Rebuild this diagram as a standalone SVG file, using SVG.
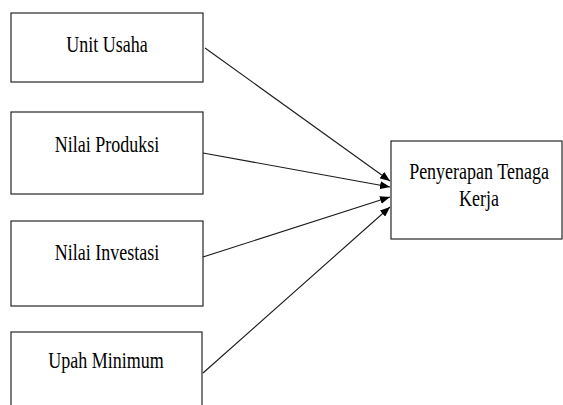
<svg xmlns="http://www.w3.org/2000/svg" width="563" height="405" viewBox="0 0 563 405">
  <style>
    .box { fill: #ffffff; stroke: #262626; stroke-width: 1.2; }
    .lbl { font-size: 18px; fill: #000000; text-anchor: middle; }
    .conn { stroke: #1a1a1a; stroke-width: 1.1; fill: none; marker-end: url(#arrow); }
  </style>
  <defs>
    <marker id="arrow" markerWidth="10" markerHeight="8" refX="10" refY="4" orient="auto" markerUnits="userSpaceOnUse">
      <path d="M0,0 L10,4 L0,8 z" fill="#000000"/>
    </marker>
  </defs>
  <rect width="563" height="405" fill="#ffffff"/>
  <g font-family="'Liberation Serif', 'Times New Roman', serif">
  <g id="node-unit-usaha">
    <rect class="box" x="11" y="13" width="192" height="69"/>
    <text class="lbl" transform="translate(107,52) scale(1,1.3)">Unit Usaha</text>
  </g>
  <g id="node-nilai-produksi">
    <rect class="box" x="11" y="112" width="192" height="82"/>
    <text class="lbl" transform="translate(107,152) scale(1,1.3)">Nilai Produksi</text>
  </g>
  <g id="node-nilai-investasi">
    <rect class="box" x="11" y="221" width="192" height="85"/>
    <text class="lbl" transform="translate(107,260) scale(1,1.3)">Nilai Investasi</text>
  </g>
  <g id="node-upah-minimum">
    <rect class="box" x="11" y="332" width="191" height="85"/>
    <text class="lbl" transform="translate(106,368) scale(1,1.3)">Upah Minimum</text>
  </g>
  <g id="node-penyerapan">
    <rect class="box" x="391" y="141" width="171" height="98"/>
    <text class="lbl" transform="translate(479,179) scale(1,1.3)">Penyerapan Tenaga</text>
    <text class="lbl" transform="translate(479,206) scale(1,1.3)">Kerja</text>
  </g>
  </g>
  <g id="connectors">
    <line class="conn" x1="205" y1="48" x2="390" y2="181"/>
    <line class="conn" x1="203" y1="153" x2="390" y2="187"/>
    <line class="conn" x1="203" y1="257" x2="390" y2="197"/>
    <line class="conn" x1="203" y1="373" x2="390" y2="207"/>
  </g>
</svg>
